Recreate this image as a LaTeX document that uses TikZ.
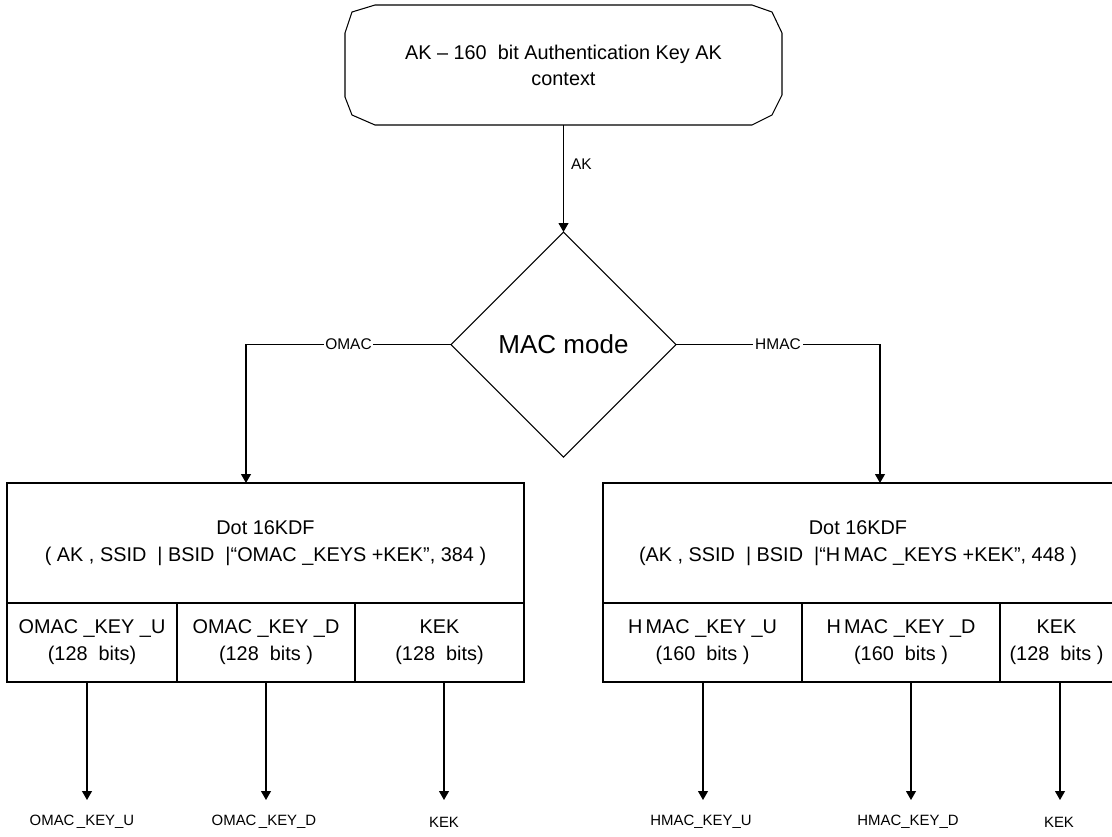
\documentclass[tikz,border=0pt]{standalone}
\usepackage{fontspec}
\setmainfont{Liberation Sans}
\usetikzlibrary{arrows.meta,shapes.geometric}
\begin{document}
\begin{tikzpicture}[x=0.2mm,y=-0.2mm, line width=0.6pt,
  box/.style={draw, inner sep=0pt, outer sep=0pt, align=center, font=\fontsize{11.3}{15.4}\selectfont},
  cell/.style={box, minimum height=15.8mm},
  lbl/.style={font=\fontsize{8.8}{10}\selectfont, inner sep=1pt},
  outlbl/.style={font=\fontsize{8.5}{10}\selectfont, inner sep=1pt},
  arr/.style={-{Triangle[length=1.8mm,width=2mm]}},
]
\useasboundingbox (0,0) rectangle (1112,836);
\fill[white] (0,0) rectangle (1112,836);

% top terminal box
\draw (375,5) -- (752,5) -- (772,12) -- (782,33) -- (782,95) -- (772,115) -- (752,125)
  -- (375,125) -- (352,115) -- (345,97) -- (345,33) -- (352,12) -- cycle;
\node[inner sep=0pt, outer sep=0pt, minimum width=87.4mm, minimum height=24mm, align=center,
  font=\fontsize{11.3}{14.8}\selectfont] (top) at (563.5,65)
  {AK – 160\ \ bit Authentication Key AK\\context};

% decision
\node[draw, diamond, minimum width=45mm, minimum height=45mm, inner sep=0pt, outer sep=0pt,
  font=\fontsize{14.8}{16}\selectfont] (mac) at (563.5,344.5) {MAC mode};

% left KDF block
\node[box, minimum width=103.4mm, minimum height=24mm] (lt) at (265.5,543)
  {Dot 16KDF\\( AK , SSID\ \ | BSID\ \ |“OMAC \_KEYS +KEK”, 384 )};
\node[cell, minimum width=34mm] (l1) at (92,642.5) {OMAC \_KEY \_U\\(128\ \ bits)};
\node[cell, minimum width=35.6mm] (l2) at (266,642.5) {OMAC \_KEY \_D\\(128\ \ bits )};
\node[cell, minimum width=33.8mm] (l3) at (439.5,642.5) {KEK\\(128\ \ bits)};

% right KDF block
\node[box, minimum width=102mm, minimum height=24mm] (rt) at (858,543)
  {Dot 16KDF\\(AK , SSID\ \ | BSID\ \ |“H\,MAC \_KEYS +KEK”, 448 )};
\node[cell, minimum width=39.8mm] (r1) at (702.5,642.5) {H\,MAC \_KEY \_U\\(160\ \ bits )};
\node[cell, minimum width=39.6mm] (r2) at (901,642.5) {H\,MAC \_KEY \_D\\(160\ \ bits )};
\node[cell, minimum width=22.6mm] (r3) at (1056.5,642.5) {KEK\\(128\ \ bits )};

% connectors
\draw[arr] (top.south) -- node[lbl, anchor=west, pos=0.37, xshift=3pt] {AK} (mac.north);
\coordinate (oc) at (246,344.5);
\coordinate (hc) at (880,344.5);
\draw[arr] (mac.west) -- node[lbl, fill=white] {OMAC} (oc) -- (oc |- lt.north);
\draw[arr] (mac.east) -- node[lbl, fill=white] {HMAC} (hc) -- (hc |- rt.north);

% outputs
\node[outlbl] (o1) at (82,822) {OMAC\,\_KEY\_U};
\node[outlbl] (o2) at (264,822) {OMAC\,\_KEY\_D};
\node[outlbl] (o3) at (444,822) {KEK};
\node[outlbl] (o4) at (701,822) {HMAC\_KEY\_U};
\node[outlbl] (o5) at (908,822) {HMAC\_KEY\_D};
\node[outlbl] (o6) at (1059,822) {KEK};
\coordinate (a1) at (87,800);
\coordinate (a2) at (266,800);
\coordinate (a3) at (444,800);
\coordinate (a4) at (703,800);
\coordinate (a5) at (911,800);
\coordinate (a6) at (1060,800);
\draw[arr] (a1 |- l1.south) -- (a1);
\draw[arr] (a2 |- l2.south) -- (a2);
\draw[arr] (a3 |- l3.south) -- (a3);
\draw[arr] (a4 |- r1.south) -- (a4);
\draw[arr] (a5 |- r2.south) -- (a5);
\draw[arr] (a6 |- r3.south) -- (a6);
\end{tikzpicture}
\end{document}
